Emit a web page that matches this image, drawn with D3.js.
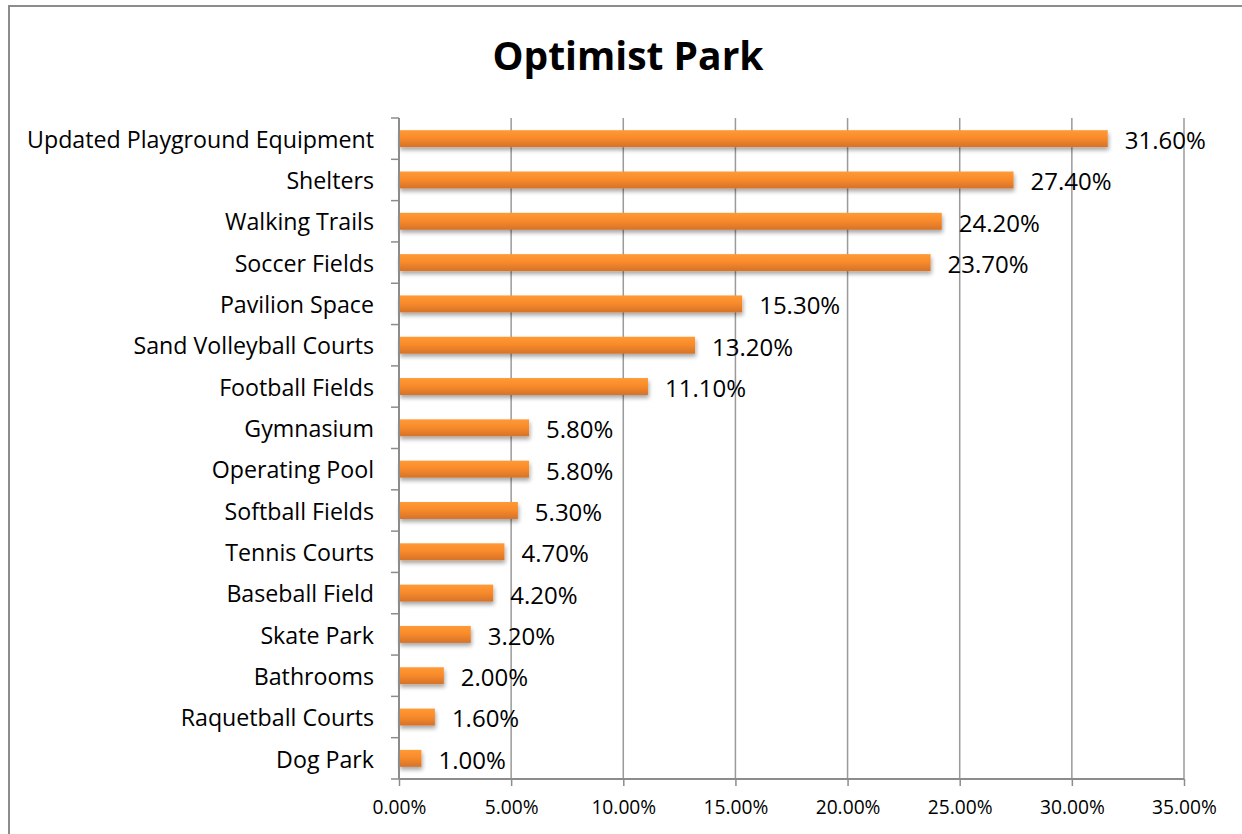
<!DOCTYPE html>
<html>
<head>
<meta charset="utf-8">
<script src="https://cdn.jsdelivr.net/npm/d3@7/dist/d3.min.js"></script>
<style>
  html, body { margin: 0; padding: 0; background: #fff; }
  svg { display: block; }
  text { font-family: "Open Sans", "Noto Sans", sans-serif; fill: #000; }
</style>
</head>
<body>
<svg id="chart" width="1242" height="834"></svg>
<script>
// Survey results: share of respondents wanting each amenity
const categories = [
  "Updated Playground Equipment", "Shelters", "Walking Trails", "Soccer Fields",
  "Pavilion Space", "Sand Volleyball Courts", "Football Fields", "Gymnasium",
  "Operating Pool", "Softball Fields", "Tennis Courts", "Baseball Field",
  "Skate Park", "Bathrooms", "Raquetball Courts", "Dog Park"
];
const values = [31.6, 27.4, 24.2, 23.7, 15.3, 13.2, 11.1, 5.8, 5.8, 5.3, 4.7, 4.2, 3.2, 2.0, 1.6, 1.0];
const xTicks = [0, 5, 10, 15, 20, 25, 30, 35];
const title = "Optimist Park";

const svg = d3.select("#chart");
const W = 1242, H = 834;
const plot = { left: 399, right: 1184, top: 118, bottom: 779 };

// outer chart frame
svg.append("rect")
  .attr("x", 9).attr("y", 6).attr("width", W + 10).attr("height", H + 10)
  .attr("fill", "#fff").attr("stroke", "#8c8c8c").attr("stroke-width", 2);

const defs = svg.append("defs");
const grad = defs.append("linearGradient")
  .attr("id", "barFill").attr("x1", 0).attr("y1", 0).attr("x2", 0).attr("y2", 1);
grad.append("stop").attr("offset", "0%").attr("stop-color", "#ff9a35");
grad.append("stop").attr("offset", "45%").attr("stop-color", "#f98b2b");
grad.append("stop").attr("offset", "100%").attr("stop-color", "#d5722a");

const shadow = defs.append("filter").attr("id", "barShadow")
  .attr("x", "-10%").attr("y", "-50%").attr("width", "130%").attr("height", "250%");
shadow.append("feGaussianBlur").attr("in", "SourceAlpha").attr("stdDeviation", 2.2).attr("result", "b");
shadow.append("feOffset").attr("in", "b").attr("dx", 1).attr("dy", 3).attr("result", "o");
shadow.append("feComponentTransfer").attr("in", "o").attr("result", "s")
  .append("feFuncA").attr("type", "linear").attr("slope", 0.35);
const merge = shadow.append("feMerge");
merge.append("feMergeNode").attr("in", "s");
merge.append("feMergeNode").attr("in", "SourceGraphic");

const x = d3.scaleLinear().domain([0, 35]).range([plot.left, plot.right]);
const y = d3.scaleBand().domain(categories).range([plot.top, plot.bottom]).paddingInner(0.59).paddingOuter(0.295);

// vertical gridlines
svg.append("g").selectAll("line")
  .data(xTicks.slice(1))
  .join("line")
  .attr("x1", d => x(d)).attr("x2", d => x(d))
  .attr("y1", plot.top).attr("y2", plot.bottom)
  .attr("stroke", "#9a9a9a").attr("stroke-width", 1.5);

// bars
svg.append("g").selectAll("rect")
  .data(values)
  .join("rect")
  .attr("x", x(0))
  .attr("y", (d, i) => y(categories[i]))
  .attr("width", d => x(d) - x(0))
  .attr("height", y.bandwidth())
  .attr("fill", "url(#barFill)")
  .attr("filter", "url(#barShadow)");

// value labels
svg.append("g").selectAll("text")
  .data(values)
  .join("text")
  .attr("x", d => x(d) + 17)
  .attr("y", (d, i) => y(categories[i]) + y.bandwidth() / 2 + 4)
  .attr("dominant-baseline", "middle")
  .attr("font-size", 24)
  .text(d => d.toFixed(2) + "%");

// x axis
const xAxis = svg.append("g")
  .attr("transform", `translate(0,${plot.bottom})`)
  .call(d3.axisBottom(x).tickValues(xTicks).tickSize(7).tickPadding(14)
    .tickFormat(d => d.toFixed(2) + "%"));
xAxis.select(".domain").attr("stroke", "#8c8c8c").attr("stroke-width", 2)
  .attr("d", `M${plot.left},0H${plot.right}`);
xAxis.selectAll(".tick line").attr("stroke", "#8c8c8c").attr("stroke-width", 1.5);
xAxis.selectAll(".tick text").attr("font-size", 19.2)
  .attr("font-family", "'Open Sans', sans-serif").attr("fill", "#000");

// y axis: ticks between categories
const yEdges = d3.range(categories.length + 1).map(i => plot.top + i * y.step());
const yAxis = svg.append("g");
yAxis.append("line")
  .attr("x1", plot.left).attr("x2", plot.left)
  .attr("y1", plot.top).attr("y2", plot.bottom)
  .attr("stroke", "#8c8c8c").attr("stroke-width", 2);
yAxis.selectAll("line.tk")
  .data(yEdges)
  .join("line").attr("class", "tk")
  .attr("x1", plot.left - 8).attr("x2", plot.left)
  .attr("y1", d => d).attr("y2", d => d)
  .attr("stroke", "#8c8c8c").attr("stroke-width", 1.5);
yAxis.selectAll("text")
  .data(categories)
  .join("text")
  .attr("x", plot.left - 25)
  .attr("y", d => y(d) + y.bandwidth() / 2 + 3)
  .attr("text-anchor", "end")
  .attr("dominant-baseline", "middle")
  .attr("font-size", 23.2)
  .text(d => d);

// title
svg.append("text")
  .attr("x", 628).attr("y", 60)
  .attr("text-anchor", "middle").attr("dominant-baseline", "middle")
  .attr("font-size", 39).attr("font-weight", "bold")
  .text(title);
</script>
</body>
</html>
